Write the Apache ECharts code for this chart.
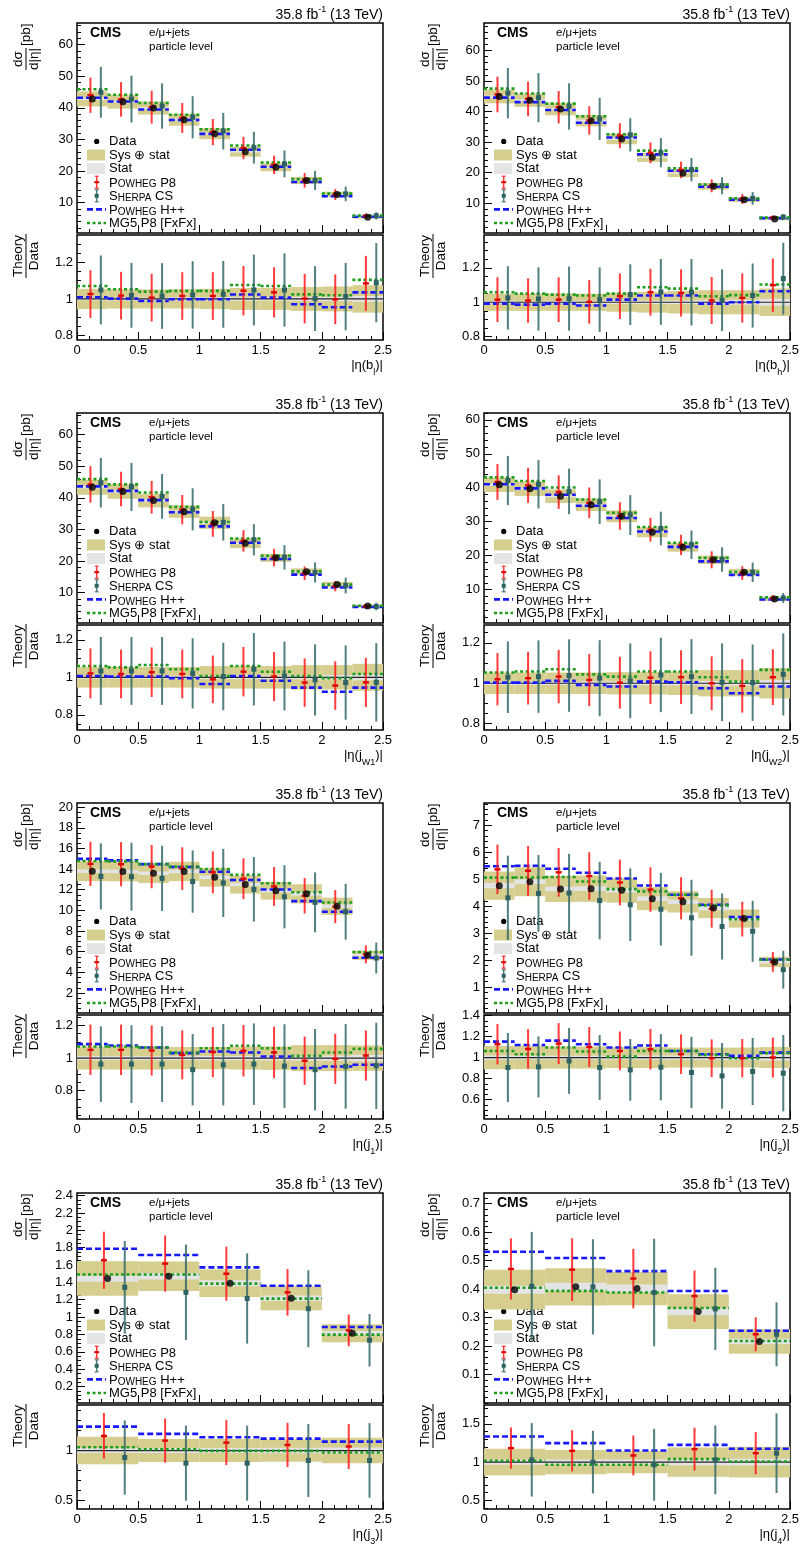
<!DOCTYPE html>
<html><head><meta charset="utf-8">
<script src="https://cdn.jsdelivr.net/npm/echarts@6/dist/echarts.min.js"></script>
<style>html,body{margin:0;padding:0;background:#fff}#c{width:800px;height:1548px}</style>
</head><body><div id="c"></div>
<script>
// ---------------- DATA ----------------
const EDGES10 = [0,0.25,0.5,0.75,1,1.25,1.5,1.75,2,2.25,2.5];
const EDGES5 = [0,0.5,1,1.5,2,2.5];

// |eta(b_l)|
const blData = [42.8,41.9,39.9,36.2,31.8,26.1,21.2,17.0,12.6,5.35];
const blTot  = [0.055,0.052,0.052,0.052,0.055,0.06,0.06,0.065,0.068,0.075];
const blStat = [0.008,0.008,0.008,0.009,0.009,0.01,0.01,0.011,0.012,0.016];
const blP8   = [1.027,1.018,1.007,1.016,1.016,1.045,1.036,1.002,0.998,1.085];
const blP8Err= [0.13,0.13,0.13,0.13,0.13,0.135,0.137,0.135,0.136,0.15];
const blSh   = [1.049,1.02,1.016,1.022,1.025,1.049,1.049,1.002,1.013,1.089];
const blShErr= [0.188,0.177,0.179,0.184,0.182,0.193,0.2,0.177,0.184,0.216];
const blHw   = [1.009,1.002,0.989,0.998,0.998,1.024,1.007,0.971,0.955,1.036];
const blMg   = [1.071,1.053,1.04,1.044,1.044,1.076,1.071,1.025,1.02,1.104];

// |eta(b_h)|
const bhData = [44.9,43.7,40.8,37.0,31.0,25.0,19.8,15.5,11.1,4.76];
const bhTot  = [0.05,0.05,0.05,0.05,0.055,0.06,0.065,0.07,0.07,0.08];
const bhStat = [0.008,0.008,0.008,0.009,0.01,0.01,0.011,0.012,0.014,0.02];
const bhP8   = [1.015,1.01,1.015,1.002,1.035,1.058,1.054,1.01,1.025,1.099];
const bhP8Err= [0.13,0.129,0.13,0.126,0.132,0.136,0.137,0.136,0.143,0.155];
const bhSh   = [1.025,1.019,1.021,1.015,1.044,1.06,1.058,1.012,1.039,1.137];
const bhShErr= [0.184,0.184,0.186,0.187,0.176,0.191,0.193,0.179,0.186,0.208];
const bhHw   = [0.992,0.986,0.992,0.981,1.015,1.039,1.039,0.992,1.0,1.064];
const bhMg   = [1.058,1.05,1.044,1.039,1.05,1.087,1.079,1.035,1.041,1.103];

// |eta(j_W1)|
const w1Data = [43.3,42.0,39.1,35.6,32.1,25.6,21.0,16.6,12.6,5.76];
const w1Tot  = [0.055,0.055,0.055,0.055,0.06,0.06,0.06,0.065,0.065,0.072];
const w1Stat = [0.008,0.008,0.008,0.009,0.009,0.01,0.01,0.011,0.012,0.016];
const w1P8   = [1.021,1.018,1.027,1.018,0.989,1.03,1.004,0.972,0.956,0.973];
const w1P8Err= [0.133,0.13,0.132,0.13,0.127,0.132,0.131,0.129,0.129,0.131];
const w1Sh   = [1.034,1.034,1.034,1.021,1.004,1.043,1.007,0.986,0.972,0.973];
const w1ShErr= [0.181,0.181,0.181,0.187,0.18,0.193,0.184,0.19,0.198,0.209];
const w1Hw   = [1.007,1.004,1.004,0.995,0.964,1.007,0.982,0.945,0.923,0.945];
const w1Mg   = [1.06,1.053,1.066,1.043,1.007,1.06,1.03,1.007,0.995,1.018];

// |eta(j_W2)|
const w2Data = [40.9,39.7,37.5,35.0,31.6,26.9,22.5,18.8,15.1,7.25];
const w2Tot  = [0.053,0.053,0.053,0.053,0.055,0.055,0.058,0.065,0.065,0.075];
const w2Stat = [0.008,0.008,0.008,0.009,0.009,0.01,0.01,0.011,0.012,0.016];
const w2P8   = [1.02,1.025,1.033,1.016,1.003,1.028,1.03,1.0,0.987,1.03];
const w2P8Err= [0.129,0.13,0.132,0.129,0.128,0.13,0.133,0.133,0.132,0.138];
const w2Sh   = [1.03,1.033,1.038,1.025,1.012,1.041,1.033,1.005,1.003,1.044];
const w2ShErr= [0.177,0.179,0.179,0.188,0.185,0.184,0.185,0.192,0.189,0.203];
const w2Hw   = [1.003,1.003,1.012,0.992,0.984,1.008,1.005,0.975,0.951,0.984];
const w2Mg   = [1.053,1.058,1.069,1.044,1.033,1.058,1.058,1.03,1.008,1.066];

// |eta(j_1)|
const j1Data = [13.8,13.77,13.6,13.77,13.2,12.5,11.9,11.6,10.4,5.65];
const j1Tot  = [0.07,0.07,0.07,0.068,0.068,0.07,0.072,0.08,0.08,0.078];
const j1Stat = [0.012,0.012,0.012,0.012,0.013,0.013,0.014,0.015,0.016,0.02];
const j1P8   = [1.051,1.051,1.047,1.02,1.037,1.045,1.035,0.984,0.996,1.016];
const j1P8Err= [0.155,0.155,0.154,0.15,0.154,0.158,0.158,0.148,0.154,0.154];
const j1Sh   = [0.963,0.963,0.963,0.929,0.959,0.963,0.951,0.929,0.949,0.953];
const j1ShErr= [0.232,0.239,0.232,0.219,0.25,0.25,0.257,0.25,0.26,0.265];
const j1Hw   = [1.086,1.078,1.065,1.031,1.041,1.035,1.01,0.939,0.949,0.959];
const j1Mg   = [1.071,1.071,1.065,1.035,1.061,1.076,1.061,1.014,1.035,1.057];

// |eta(j_2)|
const j2Data = [4.76,4.91,4.64,4.65,4.59,4.28,4.16,3.93,3.54,1.93];
const j2Tot  = [0.11,0.11,0.105,0.105,0.1,0.1,0.095,0.095,0.095,0.1];
const j2Stat = [0.02,0.018,0.018,0.018,0.018,0.02,0.02,0.022,0.024,0.03];
const j2P8   = [1.127,1.082,1.133,1.101,1.063,1.079,1.032,0.994,0.994,1.0];
const j2P8Err= [0.193,0.188,0.195,0.19,0.185,0.193,0.188,0.179,0.182,0.19];
const j2Sh   = [0.905,0.911,0.968,0.905,0.883,0.908,0.858,0.826,0.867,0.851];
const j2ShErr= [0.329,0.29,0.313,0.309,0.294,0.315,0.339,0.312,0.32,0.364];
const j2Hw   = [1.152,1.12,1.161,1.127,1.095,1.114,1.063,1.032,1.016,1.047];
const j2Mg   = [1.063,1.032,1.095,1.057,1.009,1.063,1.063,1.025,0.994,1.041];

// |eta(j_3)|
const j3Data = [1.444,1.471,1.39,1.217,0.814];
const j3Tot  = [0.138,0.115,0.115,0.113,0.128];
const j3Stat = [0.025,0.025,0.025,0.027,0.03];
const j3P8   = [1.146,1.099,1.079,1.056,1.04];
const j3P8Err= [0.228,0.22,0.224,0.22,0.224];
const j3Sh   = [0.93,0.874,0.874,0.901,0.901];
const j3ShErr= [0.37,0.374,0.374,0.364,0.372];
const j3Hw   = [1.238,1.166,1.132,1.119,1.089];
const j3Mg   = [1.033,1.013,0.997,0.997,0.98];

// |eta(j_4)|
const j4Data = [0.398,0.408,0.402,0.321,0.216];
const j4Tot  = [0.175,0.16,0.145,0.19,0.2];
const j4Stat = [0.035,0.035,0.035,0.04,0.045];
const j4P8   = [1.183,1.148,1.087,1.17,1.117];
const j4P8Err= [0.27,0.27,0.26,0.28,0.276];
const j4Sh   = [1.03,1.0,0.965,1.03,1.117];
const j4ShErr= [0.48,0.41,0.47,0.45,0.52];
const j4Hw   = [1.335,1.248,1.152,1.226,1.174];
const j4Mg   = [1.017,0.965,0.965,1.039,1.009];

// tick labels
const tickMain60 = [10,20,30,40,50,60];
const tickMainJ1 = [2,4,6,8,10,12,14,16,18,20];
const tickMainJ2 = [1,2,3,4,5,6,7];
const tickMainJ3 = [0.2,0.4,0.6,0.8,1,1.2,1.4,1.6,1.8,2,2.2,2.4];
const tickMainJ4 = [0.1,0.2,0.3,0.4,0.5,0.6,0.7];
const tickRatioA = [0.8,1,1.2];
const tickRatioJ2 = [0.6,0.8,1,1.2,1.4];
const tickRatioJ3 = [0.5,1];
const tickRatioJ4 = [0.5,1,1.5];
const tickX = [0,0.5,1,1.5,2,2.5];

// ---------------- STYLE / LAYOUT ----------------
const FONT = "'Liberation Sans', Arial, Helvetica, sans-serif";
const C_SYS = '#d5ce8e', C_STAT = '#e4e4e4';
const C_P8 = 'rgba(255,25,25,0.85)', C_P8M = '#e00000';
const C_SH = 'rgba(52,104,104,0.85)', C_SHM = '#2f6262';
const C_HW = '#1818ff', C_MG = '#1ea01e';
const COL_X = [77, 484], FRAME_W = 306;
const ROW_Y = [23, 413, 803, 1193], MAIN_H = 210, GAP = 2, RATIO_H = [105,105,104,104];

const PANELS = [
 {v:'b', s:'l',  e:EDGES10, d:blData, tot:blTot, st:blStat, p8:blP8, p8e:blP8Err, sh:blSh, she:blShErr, hw:blHw, mg:blMg, mr:[0.4,66.8], mt:tickMain60, mm:2, rr:[0.776,1.349], rt:tickRatioA, rm:0.05},
 {v:'b', s:'h',  e:EDGES10, d:bhData, tot:bhTot, st:bhStat, p8:bhP8, p8e:bhP8Err, sh:bhSh, she:bhShErr, hw:bhHw, mg:bhMg, mr:[0.2,69], mt:tickMain60, mm:2, rr:[0.781,1.39], rt:tickRatioA, rm:0.05},
 {v:'j', s:'W1', e:EDGES10, d:w1Data, tot:w1Tot, st:w1Stat, p8:w1P8, p8e:w1P8Err, sh:w1Sh, she:w1ShErr, hw:w1Hw, mg:w1Mg, mr:[0.4,66.8], mt:tickMain60, mm:2, rr:[0.719,1.279], rt:tickRatioA, rm:0.05},
 {v:'j', s:'W2', e:EDGES10, d:w2Data, tot:w2Tot, st:w2Stat, p8:w2P8, p8e:w2P8Err, sh:w2Sh, she:w2ShErr, hw:w2Hw, mg:w2Mg, mr:[0.2,62], mt:tickMain60, mm:2, rr:[0.769,1.288], rt:tickRatioA, rm:0.05},
 {v:'j', s:'1',  e:EDGES10, d:j1Data, tot:j1Tot, st:j1Stat, p8:j1P8, p8e:j1P8Err, sh:j1Sh, she:j1ShErr, hw:j1Hw, mg:j1Mg, mr:[0.06,20.4], mt:tickMainJ1, mm:0.5, rr:[0.626,1.265], rt:tickRatioA, rm:0.05},
 {v:'j', s:'2',  e:EDGES10, d:j2Data, tot:j2Tot, st:j2Stat, p8:j2P8, p8e:j2P8Err, sh:j2Sh, she:j2ShErr, hw:j2Hw, mg:j2Mg, mr:[0.035,7.83], mt:tickMainJ2, mm:0.2, rr:[0.415,1.405], rt:tickRatioJ2, rm:0.05},
 {v:'j', s:'3',  e:EDGES5,  d:j3Data, tot:j3Tot, st:j3Stat, p8:j3P8, p8e:j3P8Err, sh:j3Sh, she:j3ShErr, hw:j3Hw, mg:j3Mg, mr:[0.01,2.43], mt:tickMainJ3, mm:0.05, rr:[0.417,1.454], rt:tickRatioJ3, rm:0.1},
 {v:'j', s:'4',  e:EDGES5,  d:j4Data, tot:j4Tot, st:j4Stat, p8:j4P8, p8e:j4P8Err, sh:j4Sh, she:j4ShErr, hw:j4Hw, mg:j4Mg, mr:[0,0.7375], mt:tickMainJ4, mm:0.02, rr:[0.387,1.747], rt:tickRatioJ4, rm:0.1}
];

function fmt(v){ return String(Math.round(v*1000)/1000); }
function stepTicks(min, max, step){
  const out=[]; const n0=Math.ceil(min/step-1e-9), n1=Math.floor(max/step+1e-9);
  for(let n=n0;n<=n1;n++) out.push(+(n*step).toFixed(6));
  return out;
}
function rectRender(color){
  return function(params, api){
    const a = api.coord([api.value(0), api.value(3)]);
    const b = api.coord([api.value(1), api.value(2)]);
    return {type:'rect', shape:{x:a[0], y:a[1], width:b[0]-a[0], height:b[1]-a[1]}, style:{fill:color}};
  };
}
function segRender(color, width, dash){
  return function(params, api){
    const a = api.coord([api.value(0), api.value(2)]);
    const b = api.coord([api.value(1), api.value(2)]);
    return {type:'line', shape:{x1:a[0], y1:a[1], x2:b[0], y2:b[1]}, style:{stroke:color, lineWidth:width, lineDash:dash}};
  };
}
function errRender(color, mcolor, kind){
  return function(params, api){
    const x = api.value(0);
    const p = api.coord([x, api.value(1)]);
    const lo = api.coord([x, api.value(2)]);
    const hi = api.coord([x, api.value(3)]);
    const ch = [{type:'line', shape:{x1:p[0], y1:lo[1], x2:p[0], y2:hi[1]}, style:{stroke:color, lineWidth:2}}];
    if (kind === 'cross') {
      ch.push({type:'rect', shape:{x:p[0]-3, y:p[1]-1.2, width:6, height:2.4}, style:{fill:mcolor}});
    } else {
      ch.push({type:'rect', shape:{x:p[0]-2.5, y:p[1]-2.5, width:5, height:5}, style:{fill:mcolor}});
    }
    return {type:'group', children:ch};
  };
}

const option = {animation:false, backgroundColor:'#fff', grid:[], xAxis:[], yAxis:[], series:[], graphic:[]};

function addAxes(g, yr, yt, ystep, showXLabel){
  option.xAxis.push({gridIndex:g, type:'value', min:0, max:2.5, interval:0.5,
    axisLine:{show:false}, splitLine:{show:false},
    axisTick:{show:true, inside:true, length:8, lineStyle:{color:'#000', width:1}},
    minorTick:{show:true, splitNumber:5, length:4, lineStyle:{color:'#000', width:1}},
    minorSplitLine:{show:false},
    axisLabel:{show:showXLabel, formatter:fmt, fontSize:13, color:'#000', fontFamily:FONT, margin:4, showMinLabel:true, showMaxLabel:true, hideOverlap:false}
  });
  const ticks = yt.filter(v => v >= yr[0] && v <= yr[1]);
  option.yAxis.push({gridIndex:g, type:'value', position:'left', min:yr[0], max:yr[1],
    axisLine:{show:false}, splitLine:{show:false},
    axisTick:{show:true, inside:true, length:8, customValues:ticks, lineStyle:{color:'#000', width:1}},
    axisLabel:{show:true, customValues:ticks, formatter:fmt, fontSize:13, color:'#000', fontFamily:FONT, margin:4, hideOverlap:false}
  });
  option.yAxis.push({gridIndex:g, type:'value', position:'left', offset:0, min:yr[0], max:yr[1],
    axisLine:{show:false}, splitLine:{show:false},
    axisTick:{show:true, inside:true, length:4, customValues:stepTicks(yr[0], yr[1], ystep), lineStyle:{color:'#000', width:1}},
    axisLabel:{show:false}
  });
}

PANELS.forEach((P, k) => {
  const col = k % 2, row = Math.floor(k / 2);
  const L = COL_X[col], T = ROW_Y[row];
  const RT = T + MAIN_H + GAP, RH = RATIO_H[row];
  const n = P.d.length;
  const gM = option.grid.length, gR = gM + 1;
  const gridBase = {show:true, borderColor:'#000', borderWidth:1.5, backgroundColor:'rgba(0,0,0,0)', containLabel:false, outerBoundsMode:'none'};
  option.grid.push(Object.assign({left:L, top:T, width:FRAME_W, height:MAIN_H}, gridBase));
  option.grid.push(Object.assign({left:L, top:RT, width:FRAME_W, height:RH}, gridBase));
  addAxes(gM, P.mr, P.mt, P.mm, false);
  addAxes(gR, P.rr, P.rt, P.rm, true);

  const lo = i => P.e[i], hi = i => P.e[i+1], w = i => P.e[i+1]-P.e[i];
  const idx = [...Array(n).keys()];
  // --- main plot data
  const mSys = idx.map(i => [lo(i), hi(i), P.d[i]*(1-P.tot[i]), P.d[i]*(1+P.tot[i])]);
  const mStat = idx.map(i => [lo(i), hi(i), P.d[i]*(1-P.st[i]), P.d[i]*(1+P.st[i])]);
  const mHw = idx.map(i => [lo(i), hi(i), P.d[i]*P.hw[i]]);
  const mMg = idx.map(i => [lo(i), hi(i), P.d[i]*P.mg[i]]);
  const mP8 = idx.map(i => [lo(i)+0.44*w(i), P.d[i]*P.p8[i], P.d[i]*(P.p8[i]-P.p8e[i]), P.d[i]*(P.p8[i]+P.p8e[i])]);
  const mSh = idx.map(i => [lo(i)+0.78*w(i), P.d[i]*P.sh[i], P.d[i]*(P.sh[i]-P.she[i]), P.d[i]*(P.sh[i]+P.she[i])]);
  const mData = idx.map(i => [lo(i)+0.5*w(i), P.d[i]]);
  // --- ratio data
  const rSys = idx.map(i => [lo(i), hi(i), 1-P.tot[i], 1+P.tot[i]]);
  const rStat = idx.map(i => [lo(i), hi(i), 1-P.st[i], 1+P.st[i]]);
  const rHw = idx.map(i => [lo(i), hi(i), P.hw[i]]);
  const rMg = idx.map(i => [lo(i), hi(i), P.mg[i]]);
  const rP8 = idx.map(i => [lo(i)+0.44*w(i), P.p8[i], P.p8[i]-P.p8e[i], P.p8[i]+P.p8e[i]]);
  const rSh = idx.map(i => [lo(i)+0.78*w(i), P.sh[i], P.sh[i]-P.she[i], P.sh[i]+P.she[i]]);

  function cs(g, data, render, z){
    option.series.push({type:'custom', xAxisIndex:g, yAxisIndex:2*g, data:data, renderItem:render, clip:true, z:z, silent:true});
  }
  [[gM, mSys, mStat, mHw, mMg, mP8, mSh], [gR, rSys, rStat, rHw, rMg, rP8, rSh]].forEach(([g, sy, stt, hw, mg, p8, sh]) => {
    cs(g, sy, rectRender(C_SYS), 1);
    cs(g, stt, rectRender(C_STAT), 2);
    if (g === gR) cs(g, [[0, 2.5, 1]], segRender('#222', 1.2, null), 3);
    cs(g, hw, segRender(C_HW, 2.6, [6,3]), 4);
    cs(g, mg, segRender(C_MG, 2.6, [3,2.5]), 5);
    cs(g, sh, errRender(C_SH, C_SHM, 'square'), 6);
    cs(g, p8, errRender(C_P8, C_P8M, 'cross'), 7);
  });
  option.series.push({type:'scatter', xAxisIndex:gM, yAxisIndex:2*gM, data:mData, symbol:'circle', symbolSize:7, itemStyle:{color:'#000'}, z:10, silent:true});

  // --- texts
  const G = option.graphic;
  const txt = (x, y, text, opts) => G.push({type:'text', x:x, y:y, silent:true, style:Object.assign({text:text, fill:'#000', fontFamily:FONT, fontSize:13, align:'left', verticalAlign:'middle'}, opts||{})});
  txt(L+FRAME_W, T-9, '{n|35.8 fb}{s|-1}{n| (13 TeV)}', {align:'right', rich:{n:{fontSize:14, fontFamily:FONT, fill:'#000', lineHeight:17, verticalAlign:'bottom'}, s:{fontSize:9, fontFamily:FONT, fill:'#000', verticalAlign:'top'}}});
  txt(L+13, T+10.5, 'CMS', {fontSize:14, fontWeight:'bold'});
  txt(L+72, T+9.5, 'e/\u03bc+jets', {fontSize:11.5});
  txt(L+72, T+24, 'particle level', {fontSize:11.5});
  // x axis title
  txt(L+FRAME_W, RT+RH+28, '{n||\u03b7(' + P.v + '}{s|' + P.s + '}{n|)|}', {align:'right', rich:{n:{fontSize:13, fontFamily:FONT, fill:'#000', lineHeight:19, verticalAlign:'top'}, s:{fontSize:9, fontFamily:FONT, fill:'#000', verticalAlign:'bottom'}}});
  // y titles
  G.push({type:'group', x:L-51, y:T+47, rotation:Math.PI/2, silent:true, children:[
    {type:'text', x:11, y:-1, style:{text:'d\u03c3', fill:'#000', fontFamily:FONT, fontSize:13.5, align:'center', verticalAlign:'bottom'}},
    {type:'line', shape:{x1:0, y1:0, x2:22, y2:0}, style:{stroke:'#000', lineWidth:1}},
    {type:'text', x:11, y:1, style:{text:'d|\u03b7|', fill:'#000', fontFamily:FONT, fontSize:13.5, align:'center', verticalAlign:'top'}},
    {type:'text', x:24, y:0, style:{text:'[pb]', fill:'#000', fontFamily:FONT, fontSize:13.5, align:'left', verticalAlign:'middle'}}
  ]});
  G.push({type:'group', x:L-51, y:RT+21, rotation:Math.PI/2, silent:true, children:[
    {type:'text', x:0, y:-1, style:{text:'Theory', fill:'#000', fontFamily:FONT, fontSize:13.5, align:'center', verticalAlign:'bottom'}},
    {type:'line', shape:{x1:-22, y1:0, x2:22, y2:0}, style:{stroke:'#000', lineWidth:1}},
    {type:'text', x:0, y:1, style:{text:'Data', fill:'#000', fontFamily:FONT, fontSize:13.5, align:'center', verticalAlign:'top'}}
  ]});
  // legend
  const LX = L + 19.7, TX = L + 32, ly = i => T + 118.4 + i*13.6;
  const sc = {b:{fontSize:13, fontFamily:FONT, fill:'#000', verticalAlign:'bottom', lineHeight:15}, s:{fontSize:10, fontFamily:FONT, fill:'#000', verticalAlign:'bottom', lineHeight:15}};
  G.push({type:'circle', shape:{cx:LX, cy:ly(0), r:2.6}, style:{fill:'#000'}, silent:true});
  txt(TX, ly(0), 'Data');
  G.push({type:'rect', shape:{x:L+10, y:ly(1)-5.5, width:18, height:11}, style:{fill:C_SYS}, silent:true});
  txt(TX, ly(1), 'Sys \u2295 stat');
  G.push({type:'rect', shape:{x:L+10, y:ly(2)-5.5, width:18, height:11}, style:{fill:C_STAT}, silent:true});
  txt(TX, ly(2), 'Stat');
  [[3, C_P8, C_P8M, 'cross'], [4, C_SH, C_SHM, 'square']].forEach(([r, c, mc, kind]) => {
    const y = ly(r);
    G.push({type:'line', shape:{x1:LX, y1:y-6, x2:LX, y2:y+6}, style:{stroke:c, lineWidth:1.5}, silent:true});
    G.push({type:'line', shape:{x1:LX-2, y1:y-6, x2:LX+2, y2:y-6}, style:{stroke:c, lineWidth:1.2}, silent:true});
    G.push({type:'line', shape:{x1:LX-2, y1:y+6, x2:LX+2, y2:y+6}, style:{stroke:c, lineWidth:1.2}, silent:true});
    if (kind === 'cross') G.push({type:'rect', shape:{x:LX-2.5, y:y-1, width:5, height:2}, style:{fill:mc}, silent:true});
    else G.push({type:'rect', shape:{x:LX-2, y:y-2, width:4, height:4}, style:{fill:mc}, silent:true});
  });
  txt(TX, ly(3), '{b|P}{s|OWHEG}{b| P8}', {rich:sc});
  txt(TX, ly(4), '{b|S}{s|HERPA}{b| CS}', {rich:sc});
  G.push({type:'line', shape:{x1:L+10, y1:ly(5), x2:L+29, y2:ly(5)}, style:{stroke:C_HW, lineWidth:2.6, lineDash:[6,3]}, silent:true});
  txt(TX, ly(5), '{b|P}{s|OWHEG}{b| H++}', {rich:sc});
  G.push({type:'line', shape:{x1:L+10, y1:ly(6), x2:L+29, y2:ly(6)}, style:{stroke:C_MG, lineWidth:2.6, lineDash:[3,2.5]}, silent:true});
  txt(TX, ly(6), 'MG5_P8 [FxFx]'.replace('_',' '));
});

const chart = echarts.init(document.getElementById('c'), null, {renderer:'canvas', width:800, height:1548});
chart.setOption(option);
</script>
</body></html>
